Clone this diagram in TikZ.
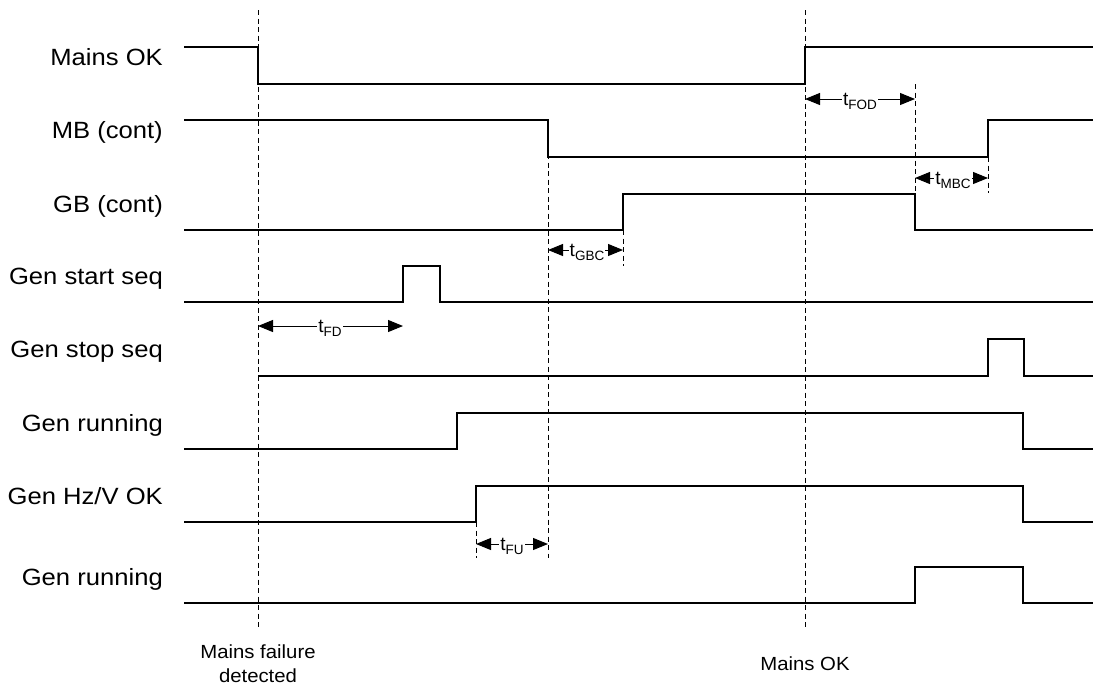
\documentclass[tikz,border=0pt]{standalone}
\usepackage{fontspec}
\setmainfont{Liberation Sans}
\usetikzlibrary{arrows.meta}
\tikzset{
  sig/.style={line width=1.2pt, line join=miter},
  guide/.style={line width=0.9pt, dash pattern=on 5pt off 3.5pt},
  lbl/.style={anchor=base east, inner sep=0pt, font=\fontsize{23.5}{28}\selectfont},
  botlbl/.style={anchor=base, inner sep=0pt, font=\fontsize{19}{24}\selectfont},
  tlbl/.style={anchor=base, fill=white, inner xsep=1pt, inner ysep=0pt, font=\fontsize{19}{22}\selectfont},
  dim/.style={line width=1pt, {Triangle[length=15pt,width=12pt]}-{Triangle[length=15pt,width=12pt]}},
}
\newcommand{\wide}[1]{\scalebox{1.09}[1]{#1}}
\newcommand{\tsub}[1]{t\raisebox{-3.5pt}{\fontsize{13.5}{14}\selectfont #1}}
\begin{document}
\begin{tikzpicture}[x=1pt,y=-1pt]
\useasboundingbox (0,0) rectangle (1093,686);

% signal labels
\node[lbl] (l1) at (163,65.5) {\wide{Mains OK}};
\node[lbl] (l2) at (163,138.5) {\wide{MB (cont)}};
\node[lbl] (l3) at (163,212.5) {\wide{GB (cont)}};
\node[lbl] (l4) at (163,284.5) {\wide{Gen start seq}};
\node[lbl] (l5) at (163,357.5) {\wide{Gen stop seq}};
\node[lbl] (l6) at (163,431.5) {\wide{Gen running}};
\node[lbl] (l7) at (163,504.5) {\wide{Gen Hz/V OK}};
\node[lbl] (l8) at (163,585.5) {\wide{Gen running}};

% guide lines
\draw[guide] (258,10) -- (258,628);
\draw[guide] (805,10) -- (805,628);
\draw[guide] (548,120) -- (548,558);
\draw[guide] (915,84) -- (915,194);
\draw[guide] (988,157) -- (988,193);
\draw[guide] (623,230) -- (623,266);
\draw[guide] (476,522) -- (476,558);

% signals
\draw[sig] (184,47) -- (258,47) -- (258,84) -- (805,84) -- (805,47) -- (1093,47);
\draw[sig] (184,120) -- (548,120) -- (548,157) -- (988,157) -- (988,120) -- (1093,120);
\draw[sig] (184,230) -- (623,230) -- (623,194) -- (915,194) -- (915,230) -- (1093,230);
\draw[sig] (184,302) -- (403,302) -- (403,266) -- (440,266) -- (440,302) -- (1093,302);
\draw[sig] (258,376) -- (988,376) -- (988,339) -- (1024,339) -- (1024,376) -- (1093,376);
\draw[sig] (184,449) -- (457,449) -- (457,413) -- (1023,413) -- (1023,449) -- (1093,449);
\draw[sig] (184,522) -- (476,522) -- (476,486) -- (1023,486) -- (1023,522) -- (1093,522);
\draw[sig] (184,603) -- (915,603) -- (915,567) -- (1023,567) -- (1023,603) -- (1093,603);

% timing dimensions
\coordinate (fodA) at (805,99);  \coordinate (fodB) at (915,99);
\coordinate (mbcA) at (915,178); \coordinate (mbcB) at (988,178);
\coordinate (gbcA) at (548,250); \coordinate (gbcB) at (623,250);
\coordinate (fdA)  at (258,326); \coordinate (fdB)  at (403,326);
\coordinate (fuA)  at (476,544); \coordinate (fuB)  at (548,544);
\draw[dim] (fodA) -- (fodB);
\draw[dim] (mbcA) -- (mbcB);
\draw[dim] (gbcA) -- (gbcB);
\draw[dim] (fdA) -- (fdB);
\draw[dim] (fuA) -- (fuB);
\node[tlbl] (tfod) at (860,105.5) {\tsub{FOD}};
\node[tlbl] (tmbc) at (953,184.5) {\tsub{MBC}};
\node[tlbl] (tgbc) at (587,256.5) {\tsub{GBC}};
\node[tlbl] (tfd)  at (330,332.5) {\tsub{FD}};
\node[tlbl] (tfu)  at (512,550.5) {\tsub{FU}};

% bottom labels
\node[botlbl] (b1) at (258,658) {\scalebox{1.07}[1]{Mains failure}};
\node[botlbl] (b2) at (258,682) {\scalebox{1.07}[1]{detected}};
\node[botlbl] (b3) at (805,670) {\scalebox{1.07}[1]{Mains OK}};
\end{tikzpicture}
\end{document}
